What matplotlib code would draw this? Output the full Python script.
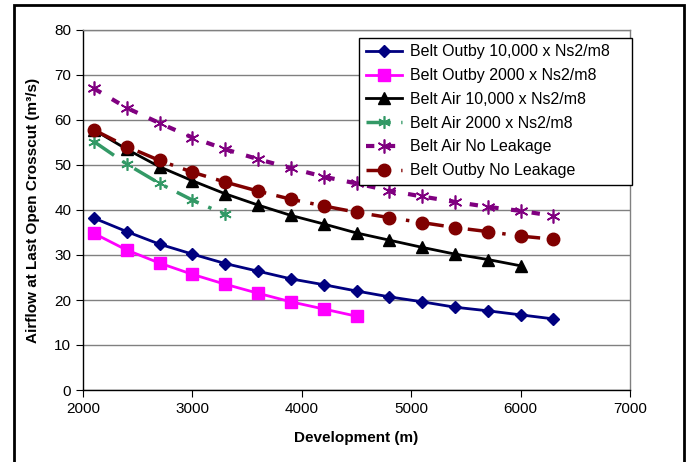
import matplotlib
matplotlib.use("Agg")
import matplotlib.pyplot as plt
from matplotlib.patches import Rectangle

plt.rcParams['font.family'] = ['Liberation Sans', 'DejaVu Sans']
plt.rcParams['font.size'] = 11

# development distances (m)
dev = [2100, 2400, 2700, 3000, 3300, 3600, 3900, 4200, 4500,
       4800, 5100, 5400, 5700, 6000, 6300]

outby_10k = [38.2, 35.2, 32.4, 30.2, 28.1, 26.4, 24.7, 23.4, 22.0,
             20.7, 19.6, 18.4, 17.6, 16.7, 15.8]
outby_2k = [34.8, 31.1, 28.2, 25.7, 23.5, 21.5, 19.6, 18.0, 16.4]
air_10k = [57.8, 53.5, 49.6, 46.5, 43.6, 41.1, 38.8, 36.9, 34.9,
           33.3, 31.7, 30.2, 29.0, 27.6]
air_2k = [55.2, 50.2, 45.9, 42.2, 39.0]
air_noleak = [67.0, 62.7, 59.3, 56.1, 53.5, 51.3, 49.3, 47.4, 45.9,
              44.3, 43.0, 41.8, 40.7, 39.8, 38.7]
outby_noleak = [57.8, 54.1, 51.0, 48.4, 46.2, 44.2, 42.4, 40.9, 39.5,
                38.3, 37.2, 36.1, 35.2, 34.2, 33.5]

labels = ["Belt Outby 10,000 x Ns2/m8", "Belt Outby 2000 x Ns2/m8",
          "Belt Air 10,000 x Ns2/m8", "Belt Air 2000 x Ns2/m8",
          "Belt Air No Leakage", "Belt Outby No Leakage"]

fig = plt.figure(figsize=(6.88, 4.62), dpi=100)
ax = fig.add_axes([83 / 688, 72 / 462, 547 / 688, 360 / 462])

ax.plot(dev[:len(outby_10k)], outby_10k, color='#000080', lw=2,
        marker='D', ms=6, label=labels[0])
ax.plot(dev[:len(outby_2k)], outby_2k, color='#FF00FF', lw=2,
        marker='s', ms=8, label=labels[1])
ax.plot(dev[:len(air_10k)], air_10k, color='black', lw=2,
        marker='^', ms=8, label=labels[2])
ax.plot(dev[:len(air_2k)], air_2k, color='#339966', lw=2.5,
        dashes=(7, 3, 1, 3), marker=(6, 2, 0), ms=9, mew=1.2,
        label=labels[3])
ax.plot(dev[:len(air_noleak)], air_noleak, color='#800080', lw=3,
        dashes=(2, 3), marker=(6, 2, 0), ms=10, mew=1.2, label=labels[4])
ax.plot(dev[:len(outby_noleak)], outby_noleak, color='#800000', lw=2.5,
        dashes=(7, 3, 1, 3), marker='o', ms=9, label=labels[5])

ax.set_xlim(2000, 7000)
ax.set_ylim(0, 80)
ax.set_xticks(range(2000, 7001, 1000))
ax.set_yticks(range(0, 81, 10))
ax.yaxis.grid(True, color='#808080', lw=1)
ax.set_axisbelow(True)
ax.tick_params(direction='out', length=5, color='black')

for side in ['top', 'right']:
    ax.spines[side].set_color('#808080')
    ax.spines[side].set_linewidth(1)
for side in ['left', 'bottom']:
    ax.spines[side].set_color('black')
    ax.spines[side].set_linewidth(1)

ax.set_xlabel("Development (m)", fontweight='bold')
ax.set_ylabel("Airflow at Last Open Crosscut (m³/s)", fontweight='bold')
ax.xaxis.set_label_coords(0.5, -0.115)
ax.yaxis.set_label_coords(-0.078, 0.5)

leg = ax.legend(loc='upper left', bbox_to_anchor=(0.505, 0.597, 0.499, 0.381),
                mode='expand', fancybox=False, framealpha=1, edgecolor='black',
                handlelength=2.3, labelspacing=0.55, borderaxespad=0,
                handletextpad=0.5, fontsize=11.5)
leg.get_frame().set_linewidth(1)
leg.set_clip_on(False)

fig.patches.append(Rectangle((14 / 688, -0.01), 670 / 688, 457 / 462 + 0.01,
                             transform=fig.transFigure, fill=False,
                             edgecolor='black', lw=2))

fig.savefig("out.png", dpi=100)
